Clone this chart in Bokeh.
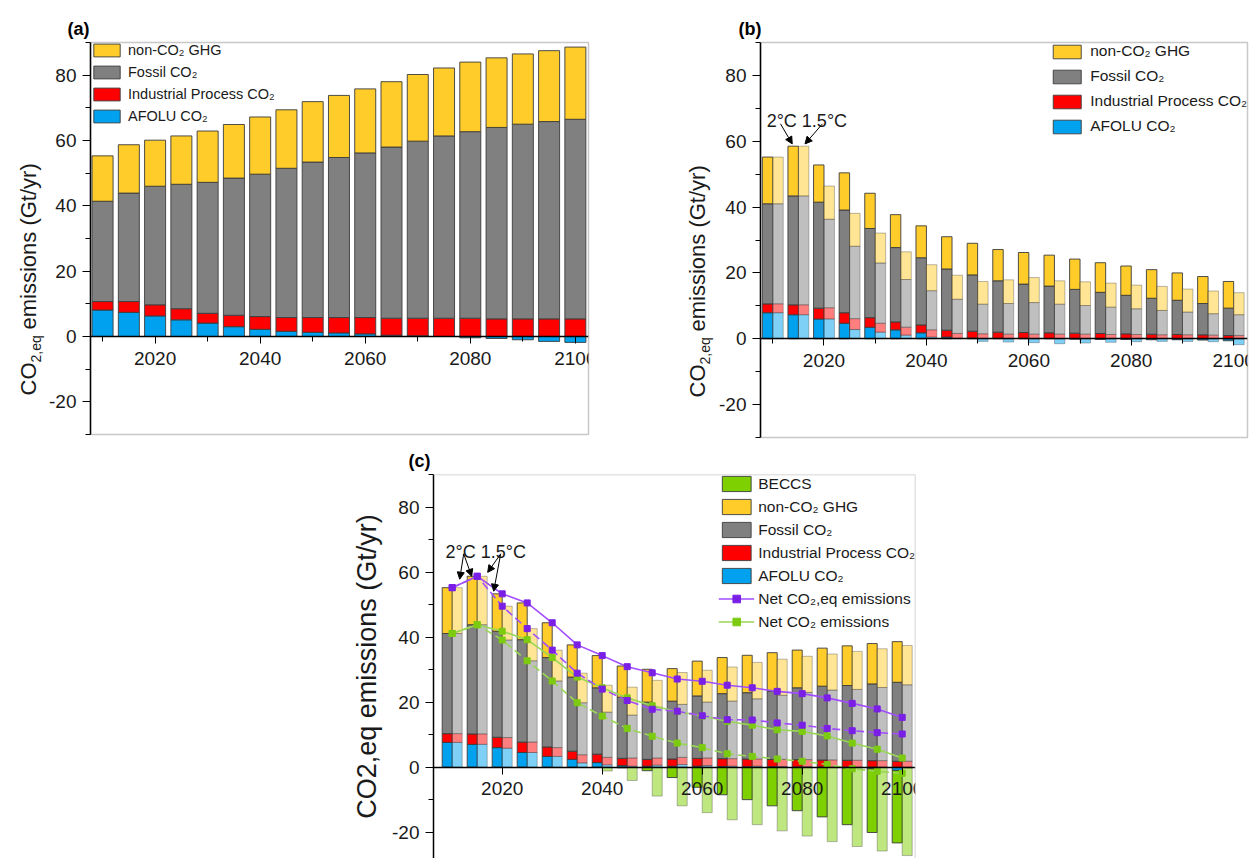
import numpy as np
from math import pi
from bokeh.plotting import figure
from bokeh.models import (ColumnDataSource, FixedTicker, Range1d, Legend, LegendItem,
                          Label, Arrow, NormalHead, Span, Spacer)
from bokeh.layouts import row, column
from bokeh.embed import file_html
from bokeh.resources import INLINE

FONT = "Liberation Sans"

# ------------------------------------------------------------------ data
years = [2010, 2015, 2020, 2025, 2030, 2035, 2040, 2045, 2050, 2055,
         2060, 2065, 2070, 2075, 2080, 2085, 2090, 2095, 2100]
x_major = [2020, 2040, 2060, 2080, 2100]
x_minor = [2010, 2030, 2050, 2070, 2090]
y_major = [-20, 0, 20, 40, 60, 80]
y_minor = [-30, -10, 10, 30, 50, 70, 90]

# (a) baseline scenario, Gt/yr
a_afolu = [8.1, 7.4, 6.3, 5.1, 4.1, 3.0, 2.2, 1.6, 1.3, 1.1, 0.8, 0.4, 0.2, 0.0, -0.4, -0.6, -1.0, -1.5, -1.8]
a_industrial = [2.6, 3.3, 3.4, 3.4, 3.0, 3.5, 3.9, 4.2, 4.5, 4.7, 5.0, 5.2, 5.4, 5.6, 5.6, 5.4, 5.4, 5.4, 5.4]
a_fossil = [30.7, 33.2, 36.3, 38.1, 40.1, 42.0, 43.6, 45.7, 47.6, 49.0, 50.4, 52.4, 54.2, 55.8, 57.1, 58.6, 59.6, 60.4, 61.1]
a_nonco2 = [13.9, 14.8, 14.1, 14.8, 15.7, 16.4, 17.5, 17.9, 18.5, 19.0, 19.6, 20.0, 20.4, 20.8, 21.3, 21.3, 21.5, 21.7, 22.1]

# (b) 2 degC scenario
b2_afolu = [7.9, 7.3, 6.0, 4.7, 3.5, 2.7, 1.8, 0.5, 0.2, 0.1, 0.1, 0.0, -0.1, -0.2, -0.2, -0.3, -0.3, -0.4, -0.6]
b2_industrial = [2.7, 3.0, 3.3, 3.2, 2.9, 2.4, 2.4, 2.1, 2.1, 1.9, 1.8, 1.8, 1.7, 1.6, 1.5, 1.4, 1.3, 1.2, 1.0]
b2_fossil = [30.4, 33.1, 32.2, 31.2, 27.1, 22.6, 20.4, 18.6, 17.1, 15.6, 14.7, 14.2, 13.3, 12.5, 11.7, 10.9, 10.4, 9.5, 8.3]
b2_nonco2 = [14.2, 15.1, 11.3, 11.3, 10.7, 10.0, 9.7, 9.8, 9.6, 9.5, 9.6, 9.4, 9.2, 9.0, 8.9, 8.7, 8.3, 8.2, 8.1]
# (b) 1.5 degC scenario
b15_afolu = [7.9, 7.3, 6.0, 2.8, 2.0, 1.1, 0.5, 0.1, -0.8, -1.0, -1.2, -1.5, -1.3, -1.1, -0.9, -0.8, -0.8, -0.9, -1.8]
b15_industrial = [2.7, 3.0, 3.4, 3.3, 2.7, 2.4, 2.2, 1.5, 1.5, 1.4, 1.4, 1.4, 1.4, 1.3, 1.3, 1.2, 1.2, 1.1, 1.0]
b15_fossil = [30.4, 33.1, 26.9, 22.0, 18.3, 14.5, 11.9, 10.4, 9.0, 9.3, 9.6, 9.1, 8.7, 8.3, 7.8, 7.4, 6.9, 6.5, 6.3]
b15_nonco2 = [14.2, 15.1, 10.1, 10.0, 9.1, 8.4, 7.9, 7.3, 6.9, 7.2, 7.6, 7.1, 7.2, 7.3, 7.2, 7.3, 7.0, 6.9, 6.7]

# (c) 2 degC scenario with BECCS
c2_afolu = [7.6, 7.0, 6.0, 4.5, 3.3, 2.4, 1.4, 0.5, 0.3, 0.3, 0.3, 0.2, 0.1, 0.1, 0.0, 0.0, -0.2, -0.5, -1.0]
c2_industrial = [2.7, 3.2, 3.2, 3.2, 2.9, 2.5, 2.6, 2.2, 2.1, 2.2, 2.4, 2.4, 2.4, 2.3, 2.3, 2.2, 2.1, 2.0, 1.8]
c2_fossil = [30.8, 33.6, 32.6, 31.5, 27.5, 22.8, 20.4, 18.8, 17.6, 17.8, 19.2, 20.0, 20.4, 21.0, 22.1, 22.7, 23.0, 23.6, 24.3]
c2_nonco2 = [14.1, 14.9, 11.5, 11.3, 10.7, 9.9, 9.9, 9.6, 10.1, 10.0, 10.7, 11.1, 11.5, 11.8, 11.6, 11.7, 12.2, 12.4, 12.5]
c2_beccs = [0, 0, 0, 0, 0, 0, 0, -0.2, -1.1, -3.2, -6.2, -8.5, -10.0, -11.9, -13.4, -15.3, -17.5, -19.6, -22.3]
# (c) 1.5 degC scenario with BECCS
c15_afolu = [7.6, 7.0, 5.8, 4.5, 3.3, 1.3, 0.7, 0.3, 0.6, 0.8, 0.5, 0.3, 0.3, 0.2, 0.1, 0.0, 0.0, 0.0, -0.2]
c15_industrial = [2.7, 3.2, 3.3, 3.2, 2.7, 2.5, 2.3, 2.5, 2.2, 2.2, 2.3, 2.3, 2.2, 2.2, 2.2, 2.2, 2.1, 2.0, 1.8]
c15_fossil = [30.8, 33.6, 30.0, 25.0, 20.5, 16.0, 13.9, 13.2, 15.6, 16.3, 17.2, 17.7, 18.5, 19.7, 20.7, 21.5, 21.8, 22.5, 23.5]
c15_nonco2 = [14.1, 14.9, 10.4, 9.9, 9.5, 9.1, 8.3, 8.6, 8.3, 9.8, 9.8, 10.5, 11.2, 11.1, 11.1, 11.1, 11.7, 11.9, 12.1]
c15_beccs = [0, 0, 0, 0, 0, 0, -1.2, -4.1, -8.9, -11.9, -14.0, -16.2, -17.7, -19.6, -21.2, -22.9, -24.4, -25.8, -27.0]

# ------------------------------------------------------------------ style
COL = {"blue": "#00A2F0", "red": "#FF0000", "gray": "#808080",
       "yellow": "#FFCC29", "green": "#7ED000"}
EDGE = "#3c3c3c"
PURPLE_LINE, PURPLE_MK = "#A24DFF", "#7A1FE6"
GREEN_LINE, GREEN_MK = "#98D655", "#7CCB10"
TXT = "#1a1a1a"


def segments(afolu, ind, fossil, nonco2, beccs=None):
    af = np.asarray(afolu, float)
    pos = np.maximum(af, 0.0)
    neg = np.minimum(af, 0.0)
    red_t = pos + np.asarray(ind, float)
    gray_t = red_t + np.asarray(fossil, float)
    yel_t = gray_t + np.asarray(nonco2, float)
    segs = [("blue", np.zeros_like(af), af), ("red", pos, red_t),
            ("gray", red_t, gray_t), ("yellow", gray_t, yel_t)]
    if beccs is not None:
        segs.append(("green", neg, neg + np.asarray(beccs, float)))
    return segs


def draw_bars(p, xs, width, segs, light=False):
    rends = {}
    xs = np.asarray(xs, float)
    for name, b, t in segs:
        m = np.abs(t - b) > 1e-9
        src = ColumnDataSource(dict(x=xs[m], bottom=b[m], top=t[m]))
        r = p.vbar(x="x", width=width, bottom="bottom", top="top", source=src,
                   fill_color=COL[name], fill_alpha=0.5 if light else 1.0,
                   line_color=EDGE, line_alpha=0.35 if light else 0.9, line_width=1)
        rends[name] = r
    return rends


def make_fig(title, t_off, xr, yr, fw, fh, bl, br, bt, bb, minor_x=True):
    p = figure(x_range=Range1d(*xr), y_range=Range1d(*yr),
               frame_width=fw, frame_height=fh,
               min_border_left=bl, min_border_right=br,
               min_border_top=bt, min_border_bottom=bb,
               output_backend="svg", toolbar_location=None, title=title)
    p.grid.visible = False
    p.background_fill_color = "white"
    p.border_fill_color = "white"
    p.outline_line_color = "#c8c8c8"
    p.outline_line_width = 1.5
    p.title.align = "left"
    p.title.offset = t_off
    p.title.standoff = 8
    p.title.text_font = FONT
    p.title.text_font_size = "18px"
    p.title.text_font_style = "bold"
    p.title.text_color = "black"

    xa = p.xaxis[0]
    xa.fixed_location = 0
    xa.ticker = FixedTicker(ticks=x_major, minor_ticks=x_minor if minor_x else [])
    xa.axis_line_color = "black"
    xa.axis_line_width = 1.5
    xa.major_tick_in = 0
    xa.major_tick_out = 7
    xa.minor_tick_in = 0
    xa.minor_tick_out = 5
    xa.major_tick_line_color = "black"
    xa.minor_tick_line_color = "black"
    xa.major_label_standoff = 8
    xa.major_label_text_font = FONT
    xa.major_label_text_font_size = "19px"
    xa.major_label_text_color = TXT

    ya = p.yaxis[0]
    ya.ticker = FixedTicker(ticks=y_major, minor_ticks=y_minor)
    ya.major_label_overrides = {-20: "-20"}
    ya.axis_line_color = "black"
    ya.axis_line_width = 1.5
    ya.major_tick_in = 0
    ya.major_tick_out = 8
    ya.minor_tick_in = 0
    ya.minor_tick_out = 5
    ya.major_tick_line_color = "black"
    ya.minor_tick_line_color = "black"
    ya.major_label_standoff = 6
    ya.major_label_text_font = FONT
    ya.major_label_text_font_size = "19px"
    ya.major_label_text_color = TXT
    return p


def ylabel_fig(w, h, x, y_co, y_sub, y_rest, dx_sub):
    """Narrow blank figure holding 'CO' + subscript '2,eq' + 'emissions (Gt/yr)' rotated."""
    f = figure(frame_width=w, frame_height=h, x_range=Range1d(0, w), y_range=Range1d(0, h),
               min_border=0, x_axis_location=None, y_axis_location=None,
               output_backend="svg", toolbar_location=None)
    f.grid.visible = False
    f.outline_line_color = None
    f.background_fill_color = "white"
    f.border_fill_color = "white"
    common = dict(angle=pi / 2, text_align="left", text_baseline="middle",
                  text_font=FONT, text_color=TXT)
    f.add_layout(Label(x=x, y=y_co, text="CO", text_font_size="22px", **common))
    f.add_layout(Label(x=x + dx_sub, y=y_sub, text="2,eq", text_font_size="14px", **common))
    f.add_layout(Label(x=x, y=y_rest, text="emissions (Gt/yr)", text_font_size="22px", **common))
    return f


def make_legend(items, loc, font_size, gw, gh, spacing, standoff, margin, padding):
    lg = Legend(items=[LegendItem(label=l, renderers=r) for l, r in items],
                location=loc, orientation="vertical")
    lg.border_line_color = None
    lg.background_fill_alpha = 0
    lg.glyph_width = gw
    lg.glyph_height = gh
    lg.label_height = gh
    lg.spacing = spacing
    lg.label_standoff = standoff
    lg.margin = margin
    lg.padding = padding
    lg.label_text_font = FONT
    lg.label_text_font_size = font_size
    lg.label_text_color = TXT
    return lg


def annotate(p, tx, ty, arrows):
    p.add_layout(Label(x=tx, y=ty, text="2°C 1.5°C", text_font=FONT,
                       text_font_size="18px", text_color=TXT,
                       text_baseline="alphabetic"))
    for (xs, ys, xe, ye) in arrows:
        p.add_layout(Arrow(end=NormalHead(size=7, fill_color="black", line_color="black"),
                           x_start=xs, y_start=ys, x_end=xe, y_end=ye,
                           line_color="black", line_width=1))


# ------------------------------------------------------------------ (a)
la = ylabel_fig(45, 440, 28, 87, 120, 153, 7)
pa = make_fig("(a)", -23, (2007.7, 2102.5), (-30, 90), 498, 392, 45, 52, 41, 7)
ra = draw_bars(pa, years, 4.0, segments(a_afolu, a_industrial, a_fossil, a_nonco2))
pa.add_layout(make_legend([("non-CO\u2082 GHG", [ra["yellow"]]),
                           ("Fossil CO\u2082", [ra["gray"]]),
                           ("Industrial Process CO\u2082", [ra["red"]]),
                           ("AFOLU CO\u2082", [ra["blue"]])],
                          "top_left", "14.5px", 33, 16, 6, 5, 0, 5))

# ------------------------------------------------------------------ (b)
lb = ylabel_fig(75, 440, 57, 85, 118, 151, 7)
pb = make_fig("(b)", -22, (2007.6, 2102.7), (-30, 90), 487, 395, 45, 11, 42, 3)
xb2 = [y - 1.02 for y in years]
xb15 = [y + 1.02 for y in years]
rb = draw_bars(pb, xb2, 2.04, segments(b2_afolu, b2_industrial, b2_fossil, b2_nonco2))
draw_bars(pb, xb15, 2.04, segments(b15_afolu, b15_industrial, b15_fossil, b15_nonco2), light=True)
pb.add_layout(make_legend([("non-CO\u2082 GHG", [rb["yellow"]]),
                           ("Fossil CO\u2082", [rb["gray"]]),
                           ("Industrial Process CO\u2082", [rb["red"]]),
                           ("AFOLU CO\u2082", [rb["blue"]])],
                          "top_right", "15.5px", 35, 17, 7, 6, 0, 7))
annotate(pb, 2008.8, 66.3, [(2011.5, 65.3, 2013.8, 59.2), (2019.7, 65.3, 2016.3, 59.2)])

# ------------------------------------------------------------------ (c)
pc = make_fig("(c)", -25, (2006.26, 2102.66), (-28.1, 90), 482, 384, 105, 20, 34, 0, minor_x=False)
pc.outline_line_color = None
pc.add_layout(Span(location=90, dimension="width", line_color="#c8c8c8", line_width=1.5))
pc.add_layout(Span(location=2102.66, dimension="height", line_color="#c8c8c8", line_width=1.5))
pc.yaxis[0].axis_label = "CO2,eq emissions (Gt/yr)"
pc.yaxis[0].axis_label_text_font = FONT
pc.yaxis[0].axis_label_text_font_size = "27px"
pc.yaxis[0].axis_label_text_font_style = "normal"
pc.yaxis[0].axis_label_text_color = TXT
pc.yaxis[0].axis_label_standoff = 7

xc2 = [y - 1.0 for y in years]
xc15 = [y + 1.0 for y in years]
rc = draw_bars(pc, xc2, 2.0, segments(c2_afolu, c2_industrial, c2_fossil, c2_nonco2, c2_beccs))
draw_bars(pc, xc15, 2.0, segments(c15_afolu, c15_industrial, c15_fossil, c15_nonco2, c15_beccs), light=True)

net_eq_2 = np.sum([c2_afolu, c2_industrial, c2_fossil, c2_nonco2, c2_beccs], axis=0)
net_eq_15 = np.sum([c15_afolu, c15_industrial, c15_fossil, c15_nonco2, c15_beccs], axis=0)
net_co2_2 = np.sum([c2_afolu, c2_industrial, c2_fossil, c2_beccs], axis=0)
net_co2_15 = np.sum([c15_afolu, c15_industrial, c15_fossil, c15_beccs], axis=0)

lines = {}
for key, vals, lc, mc, dash in [("g2", net_co2_2, GREEN_LINE, GREEN_MK, "solid"),
                                ("g15", net_co2_15, GREEN_LINE, GREEN_MK, "8 4"),
                                ("p2", net_eq_2, PURPLE_LINE, PURPLE_MK, "solid"),
                                ("p15", net_eq_15, PURPLE_LINE, PURPLE_MK, "8 4")]:
    src = ColumnDataSource(dict(x=years, y=vals))
    l = pc.line("x", "y", source=src, line_color=lc, line_width=1.6, line_dash=dash)
    s = pc.scatter("x", "y", source=src, marker="square", size=6,
                   fill_color=mc, line_color=mc)
    lines[key] = [l, s]

annotate(pc, 2008.66, 66.2, [(2012.3, 65.6, 2011.5, 57.8), (2012.3, 65.6, 2013.9, 58.7),
                             (2019.7, 65.6, 2017.1, 59.9), (2019.7, 65.6, 2018.3, 54.1)])

pc.add_layout(make_legend([("BECCS", [rc["green"]]),
                           ("non-CO\u2082 GHG", [rc["yellow"]]),
                           ("Fossil CO\u2082", [rc["gray"]]),
                           ("Industrial Process CO\u2082", [rc["red"]]),
                           ("AFOLU CO\u2082", [rc["blue"]]),
                           ("Net CO\u2082,eq emissions", lines["p2"]),
                           ("Net CO\u2082 emissions", lines["g2"])],
                          "top_right", "15.5px", 36, 19, 4, 4, 0, 1))

layout = column(row(la, pa, lb, pb), row(Spacer(width=328, height=419), pc))

open("out.html", "w").write(file_html(layout, INLINE))
